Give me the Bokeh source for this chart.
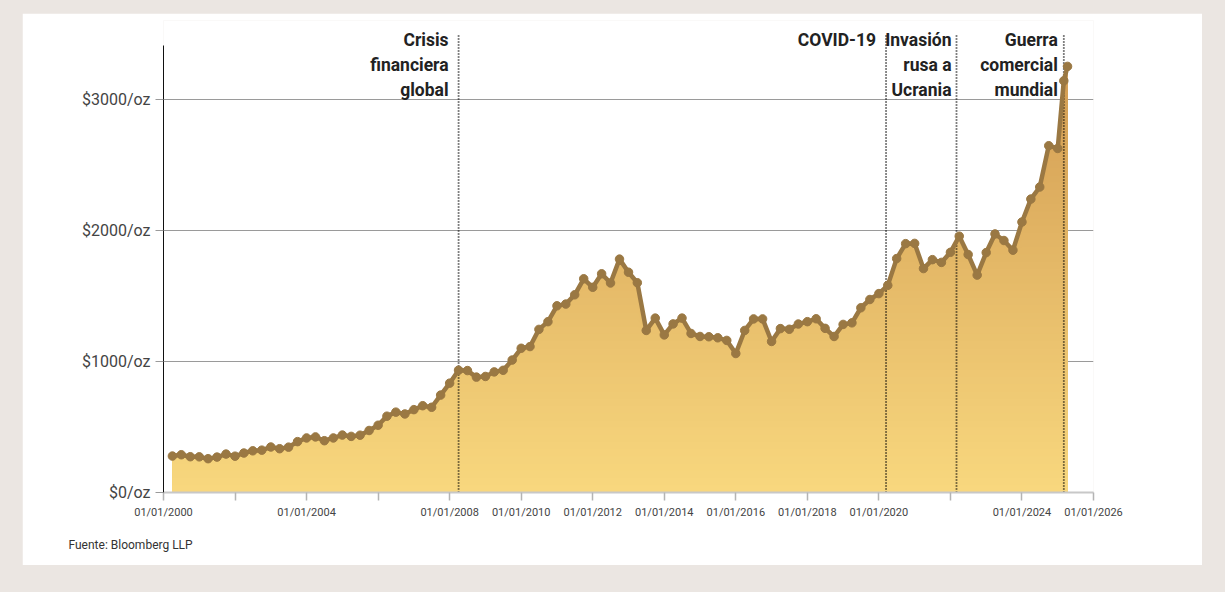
import numpy as np
import pandas as pd
from bokeh.plotting import figure
from bokeh.models import FixedTicker, Label, Title
from bokeh.embed import file_html
from bokeh.resources import INLINE

# ---------------- data ----------------
# quarter-end gold price (USD/oz), Q1 2000 .. Q4 2024, then two 2025 points
prices = [
    278, 288, 273, 272,      # 2000
    258, 270, 293, 277,      # 2001
    301, 318, 323, 347,      # 2002
    334, 346, 388, 416,      # 2003
    424, 395, 416, 438,      # 2004
    428, 437, 473, 513,      # 2005
    582, 613, 599, 632,      # 2006
    662, 650, 743, 834,      # 2007
    933, 930, 880, 885,      # 2008
    920, 932, 1010, 1100,    # 2009
    1113, 1244, 1303, 1424,  # 2010
    1437, 1508, 1630, 1565,  # 2011
    1668, 1598, 1780, 1680,  # 2012
    1600, 1236, 1330, 1202,  # 2013
    1286, 1330, 1213, 1190,  # 2014
    1188, 1180, 1160, 1060,  # 2015
    1236, 1324, 1324, 1152,  # 2016
    1250, 1245, 1285, 1303,  # 2017
    1325, 1252, 1190, 1282,  # 2018
    1294, 1409, 1472, 1517,  # 2019
    1580, 1784, 1898, 1900,  # 2020
    1708, 1776, 1755, 1832,  # 2021
    1955, 1815, 1658, 1830,  # 2022
    1972, 1922, 1848, 2063,  # 2023
    2238, 2330, 2645, 2624,  # 2024
    3140, 3250,              # 2025
]
quarter_dates = list(pd.date_range("2000-03-31", "2024-12-31", freq="QE"))
extra_dates = [pd.Timestamp("2025-03-03"), pd.Timestamp("2025-04-10")]
dates = quarter_dates + extra_dates

def dec_year(ts):
    return ts.year + (ts.dayofyear) / (366 if ts.is_leap_year else 365)

x_years = [dec_year(d) for d in dates]

event_years = [2008.25, 2020.2, 2022.17, 2025.17]
event_texts = ["Crisis\nfinanciera\nglobal", "COVID-19", "Invasión\nrusa a\nUcrania", "Guerra\ncomercial\nmundial"]
event_offsets = [-10, -10, -5, -6]

tick_years = [2000, 2002, 2004, 2006, 2008, 2010, 2012, 2014, 2016, 2018, 2020, 2022, 2024, 2026]
tick_labels = ["01/01/2000", "", "01/01/2004", "", "01/01/2008", "01/01/2010", "01/01/2012",
               "01/01/2014", "01/01/2016", "01/01/2018", "01/01/2020", "", "01/01/2024", "01/01/2026"]
y_ticks = [0, 1000, 2000, 3000]
y_labels = ["$0/oz", "$1000/oz", "$2000/oz", "$3000/oz"]

FONT = "Roboto"

# ---------------- figure ----------------
p = figure(width=1180, height=552, x_range=(2000, 2026), y_range=(0, 3600),
           output_backend="svg", toolbar_location=None, title=None,
           min_border_left=141, min_border_right=109, min_border_top=7, min_border_bottom=73,
           background_fill_color="white", border_fill_color="white", outline_line_color=None)

x = np.array(x_years)
y = np.array(prices, dtype=float)

# gradient fill built from stacked bands (drawn top-first)
c_bot = np.array([248, 215, 126])
c_top = np.array([210, 156, 82])
N = 60
top_val = 3300.0
for k in range(N, 0, -1):
    t = k * top_val / N
    frac = (k - 0.5) / N
    c = (c_bot + (c_top - c_bot) * frac).round().astype(int)
    col = "#%02x%02x%02x" % tuple(c)
    p.varea(x=x, y1=np.zeros_like(y), y2=np.minimum(y, t), fill_color=col, fill_alpha=1.0)

# event dotted lines
for ex in event_years:
    p.segment(x0=ex, y0=0, x1=ex, y1=3500, line_color="#000000", line_width=1.8, line_dash="1 2")

line_col = "#9a7843"
p.line(x, y, line_color=line_col, line_width=4.5, line_join="round")
p.scatter(x, y, size=8.5, fill_color=line_col, line_color=line_col)

# axes
p.xgrid.visible = False
p.ygrid.ticker = FixedTicker(ticks=y_ticks)
p.ygrid.grid_line_color = "#9a9a9a"
p.ygrid.grid_line_width = 1

xa = p.xaxis[0]
xa.ticker = FixedTicker(ticks=tick_years)
xa.major_label_overrides = {t: l for t, l in zip(tick_years, tick_labels)}
xa.axis_line_color = "#c8c8c8"
xa.axis_line_width = 2
xa.major_tick_line_color = "#b4b4b4"
xa.major_tick_line_width = 1.5
xa.major_tick_out = 8
xa.major_tick_in = 0
xa.minor_tick_line_color = None
xa.major_label_standoff = 5
xa.major_label_text_font = FONT
xa.major_label_text_font_size = "11px"
xa.major_label_text_color = "#444444"

ya = p.yaxis[0]
ya.ticker = FixedTicker(ticks=y_ticks)
ya.major_label_overrides = {t: l for t, l in zip(y_ticks, y_labels)}
ya.bounds = (0, 3412)
ya.axis_line_color = "#111111"
ya.axis_line_width = 1
ya.major_tick_line_color = "#9a9a9a"
ya.major_tick_out = 8
ya.major_tick_in = 0
ya.minor_tick_line_color = None
ya.major_label_standoff = 5
ya.major_label_text_font = FONT
ya.major_label_text_font_size = "16px"
ya.major_label_text_color = "#444444"

# event labels
for ex, txt, off in zip(event_years, event_texts, event_offsets):
    p.add_layout(Label(x=ex, y=3526, x_offset=off, text=txt, text_align="right", text_baseline="top",
                       text_font=FONT, text_font_style="bold", text_font_size="17.5px",
                       text_color="#222222", text_line_height=1.25))

# source line under the chart
src = Title(text="Fuente: Bloomberg LLP", align="left", offset=-95, standoff=28,
            text_font=FONT, text_font_size="12px", text_font_style="normal", text_color="#333333")
p.add_layout(src, "below")

html = file_html(p, INLINE)
css = ("<style>html, body { background-color: #ebe6e2 !important; } "
       "body { padding: 13px 0 0 22px !important; margin: 0 !important; }</style>")
html = html.replace("</head>", css + "\n</head>", 1)
open("out.html", "w").write(html)
